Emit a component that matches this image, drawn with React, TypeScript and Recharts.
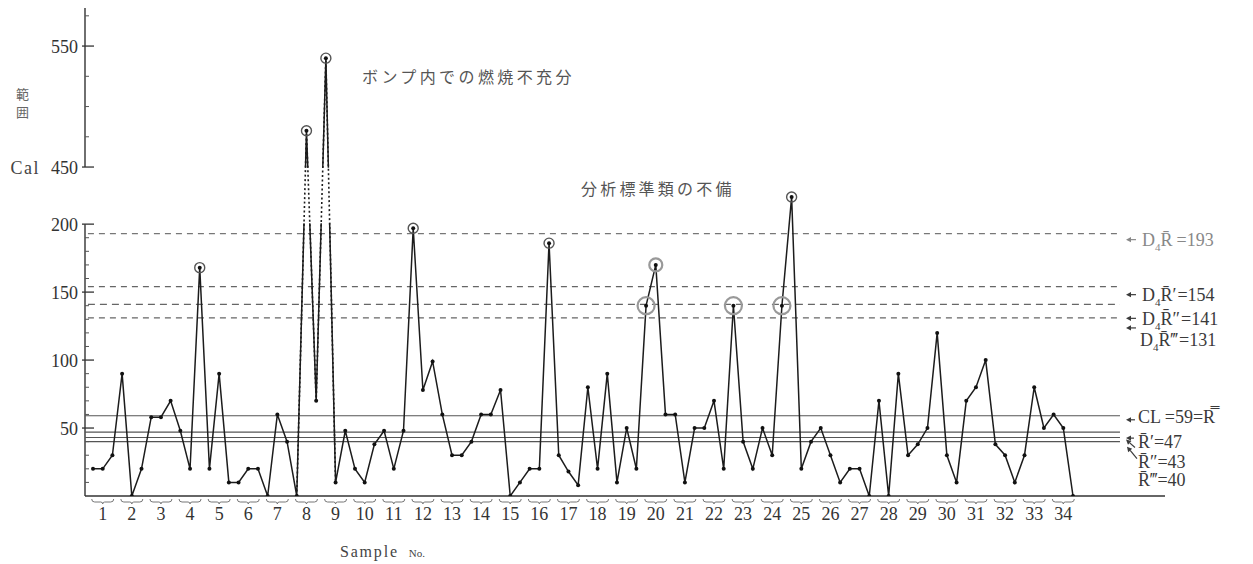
import React from 'react';
import { LineChart, Line, XAxis, YAxis, ReferenceLine, ReferenceArea, Label } from 'recharts';

// Sample numbers on the bottom axis (three determinations per sample)
const sampleNos = [
  1, 2, 3, 4, 5, 6, 7, 8, 9, 10, 11, 12, 13, 14, 15, 16, 17,
  18, 19, 20, 21, 22, 23, 24, 25, 26, 27, 28, 29, 30, 31, 32, 33, 34,
];

// Range R (Cal) of each determination, in sample order
const rangeCal = [
  20, 20, 30, // 1
  90, 0, 20, // 2
  58, 58, 70, // 3
  48, 20, 168, // 4
  20, 90, 10, // 5
  10, 20, 20, // 6
  0, 60, 40, // 7
  0, 480, 70, // 8
  540, 10, 48, // 9
  20, 10, 38, // 10
  48, 20, 48, // 11
  197, 78, 99, // 12
  60, 30, 30, // 13
  40, 60, 60, // 14
  78, 0, 10, // 15
  20, 20, 186, // 16
  30, 18, 8, // 17
  80, 20, 90, // 18
  10, 50, 20, // 19
  140, 170, 60, // 20
  60, 10, 50, // 21
  50, 70, 20, // 22
  140, 40, 20, // 23
  50, 30, 140, // 24
  220, 20, 40, // 25
  50, 30, 10, // 26
  20, 20, 0, // 27
  70, 0, 90, // 28
  30, 38, 50, // 29
  120, 30, 10, // 30
  70, 80, 100, // 31
  38, 30, 10, // 32
  30, 80, 50, // 33
  60, 50, 0, // 34
];

// Out-of-control points (1-based position in rangeCal)
const ringedPoints = [12, 23, 25, 34, 48, 73];
const haloedPoints = [58, 59, 67, 72];

// Determinations whose links cross the axis break (drawn dotted there)
const breakSpan = [22, 26];

// Upper control limits D4·R̄ and centre lines R̄
const uclValues = [193, 154, 141, 131];
const clValues = [59, 47, 43, 40];
const primes = ['', '′', '″', '‴'];

// Y-axis tick labels
const lowerTicks = [50, 100, 150, 200];
const upperTicks = [450, 550];

// Broken value axis: 0–200 below the break, 450–580 above it on a tighter scale
const BREAK_LOW = 200;
const BREAK_HIGH = 450;
const BREAK_GAP = 42;
const UPPER_SCALE = 0.89;
const toAxis = (v: number) =>
  v >= BREAK_HIGH ? BREAK_LOW + BREAK_GAP + (v - BREAK_HIGH) * UPPER_SCALE : v;

const Y_TOP = 359;
const X_MIN = 0.1755;
const X_MAX = 111.48;
const LIMIT_END = 106.84;

const data = rangeCal.map((v, k) => {
  const idx = k + 1;
  return {
    idx,
    cal: v,
    y: toAxis(v),
    link: idx >= breakSpan[0] && idx <= breakSpan[1] ? toAxis(v) : null,
  };
});

const xTicks = sampleNos.map((n) => 3 * (n - 1) + 2);
const sampleAt = new Map<number, number>(sampleNos.map((n) => [3 * (n - 1) + 2, n]));

const yLabels = new Map<number, string>();
lowerTicks.forEach((v) => yLabels.set(toAxis(v), String(v)));
upperTicks.forEach((v) => yLabels.set(toAxis(v), String(v)));
const yTicks: number[] = [];
for (let v = 10; v <= 200; v += 10) yTicks.push(toAxis(v));
[450, 475, 500, 525, 550, 575].forEach((v) => yTicks.push(toAxis(v)));

const SERIF = '"Liberation Serif", "DejaVu Serif", serif';
const CJK = '"Noto Sans CJK JP", sans-serif';

const YTick = (props: any) => {
  const { x, y, payload } = props;
  const lbl = yLabels.get(payload.value);
  if (lbl === undefined) {
    return <line x1={x} x2={x + 4} y1={y} y2={y} stroke="#555" strokeWidth={1} />;
  }
  return (
    <g>
      <line x1={x - 3} x2={x + 9} y1={y} y2={y} stroke="#333" strokeWidth={1.3} />
      <text x={x - 7} y={y} dy="0.36em" textAnchor="end" fontSize={18} fill="#333" fontFamily={SERIF}>
        {lbl}
      </text>
      {payload.value === toAxis(BREAK_HIGH) && (
        <text x={x - 45} y={y} dy="0.36em" textAnchor="end" fontSize={18} fill="#444" fontFamily={SERIF} letterSpacing={1.5}>
          Cal
        </text>
      )}
    </g>
  );
};

const XTick = (props: any) => {
  const { x, y, payload } = props;
  const n = sampleAt.get(payload.value);
  const b = y + 3;
  return (
    <g>
      <path
        d={`M${x - 11},${b} Q${x - 11},${b + 3} ${x - 8},${b + 3} L${x - 2},${b + 3} Q${x},${b + 3} ${x},${b + 5} Q${x},${b + 3} ${x + 2},${b + 3} L${x + 8},${b + 3} Q${x + 11},${b + 3} ${x + 11},${b}`}
        fill="none"
        stroke="#777"
        strokeWidth={1}
      />
      <text x={x} y={y + 24} textAnchor="middle" fontSize={18} fill="#333" fontFamily={SERIF}>
        {n}
      </text>
    </g>
  );
};

const ringSet = new Set(ringedPoints);
const haloSet = new Set(haloedPoints);

const renderDot = (p: any) => {
  const { cx, cy, index } = p;
  if (cx == null || cy == null) return <g key={`d-${index}`} />;
  const i = index + 1;
  return (
    <g key={`d-${index}`}>
      {haloSet.has(i) && (
        <circle cx={cx} cy={cy} r={i === 59 ? 6.5 : 8.5} fill="none" stroke="#999" strokeWidth={2.2} />
      )}
      {ringSet.has(i) && (
        <circle cx={cx} cy={cy} r={5} fill="none" stroke="#555" strokeWidth={1.4} />
      )}
      <circle cx={cx} cy={cy} r={2} fill="#111" />
    </g>
  );
};

const Arrow = ({ x, y, tx, ty, color }: { x: number; y: number; tx: number; ty: number; color: string }) => {
  // arrow from the tail (tx,ty) to the head (x,y)
  const ang = Math.atan2(y - ty, x - tx);
  const hl = 5;
  const hw = 2.6;
  const bx = x - hl * Math.cos(ang);
  const by = y - hl * Math.sin(ang);
  const px = -Math.sin(ang) * hw;
  const py = Math.cos(ang) * hw;
  return (
    <g>
      <line x1={tx} y1={ty} x2={bx} y2={by} stroke={color} strokeWidth={1.2} />
      <polygon points={`${x},${y} ${bx + px},${by + py} ${bx - px},${by - py}`} fill={color} />
    </g>
  );
};

const uclLabel = (k: number) => (props: any) => {
  const vb = props.viewBox || {};
  const x = (vb.x ?? 0) + (vb.width ?? 0);
  const ly = vb.y ?? 0;
  const textDy = [6, 8, 14, 22][k];
  const arrowDy = [6, 8, 14, 10][k];
  const color = k === 0 ? '#888' : '#3a3a3a';
  const ty = ly + textDy;
  return (
    <g>
      <Arrow x={x + 6} y={ly + arrowDy} tx={x + 16} ty={ly + arrowDy} color={color} />
      <text x={x + (k === 3 ? 20 : 22)} y={ty} dy="0.35em" fontSize={18} fill={color} fontFamily={SERIF}>
        D<tspan fontSize={11} dy={5}>4</tspan>
        <tspan dy={-5}>{'R\u0304' + primes[k]}</tspan>
        <tspan dx={k === 0 ? 4 : 1}>={uclValues[k]}</tspan>
      </text>
    </g>
  );
};

const clLabel = (k: number) => (props: any) => {
  const vb = props.viewBox || {};
  const x = (vb.x ?? 0) + (vb.width ?? 0);
  const ly = vb.y ?? 0;
  const textDy = [1, 10, 24.5, 38][k];
  const color = '#3a3a3a';
  const ty = ly + textDy;
  let arrow;
  if (k === 0) arrow = <Arrow x={x + 6} y={ly + 4} tx={x + 15} ty={ly + 4} color={color} />;
  else if (k === 1) arrow = <Arrow x={x + 6} y={ly + 6} tx={x + 14} ty={ly + 6} color={color} />;
  else if (k === 2) arrow = <Arrow x={x + 6} y={ly + 2} tx={x + 15} ty={ly + 10} color={color} />;
  else arrow = <Arrow x={x + 7} y={ly + 5} tx={x + 17} ty={ly + 17} color={color} />;
  return (
    <g>
      {arrow}
      <text x={x + 18} y={ty} dy="0.35em" fontSize={18} fill={color} fontFamily={SERIF}>
        {k === 0 ? 'CL =59=R\u033F' : `R\u0304${primes[k]}=${clValues[k]}`}
      </text>
    </g>
  );
};

export default function App() {
  return (
    <div style={{ position: 'relative', width: 1253, height: 564, background: '#fff' }}>
      <style>{'body{margin:0;background:#fff}'}</style>
      <LineChart
        width={1253}
        height={564}
        data={data}
        margin={{ top: 8, right: 88, bottom: 0, left: 0 }}
        style={{ fontFamily: SERIF }}
      >
        <XAxis
          type="number"
          dataKey="idx"
          domain={[X_MIN, X_MAX]}
          allowDataOverflow
          ticks={xTicks}
          interval={0}
          height={68}
          tickSize={0}
          tickMargin={0}
          tickLine={false}
          tick={<XTick />}
          axisLine={{ stroke: '#333', strokeWidth: 1.3 }}
        />
        <YAxis
          type="number"
          domain={[0, Y_TOP]}
          allowDataOverflow
          ticks={yTicks}
          interval={0}
          width={85}
          tickSize={0}
          tickMargin={0}
          tickLine={false}
          axisLine={false}
          tick={<YTick />}
        />

        {/* broken value axis: lower and upper segments */}
        <ReferenceLine
          segment={[{ x: X_MIN, y: 0 }, { x: X_MIN, y: BREAK_LOW }]}
          stroke="#333"
          strokeWidth={1.4}
        />
        <ReferenceLine
          segment={[{ x: X_MIN, y: toAxis(BREAK_HIGH) }, { x: X_MIN, y: Y_TOP }]}
          stroke="#333"
          strokeWidth={1.4}
        />

        {uclValues.map((v, k) => (
          <ReferenceLine
            key={`ucl-${v}`}
            segment={[{ x: X_MIN + 0.3, y: v }, { x: LIMIT_END, y: v }]}
            stroke={k === 0 ? '#777' : '#666'}
            strokeWidth={1.2}
            strokeDasharray={k === 2 ? '7 5' : '6 5'}
          >
            <Label content={uclLabel(k)} />
          </ReferenceLine>
        ))}
        {clValues.map((v, k) => (
          <ReferenceLine
            key={`cl-${v}`}
            segment={[{ x: X_MIN, y: v }, { x: LIMIT_END, y: v }]}
            stroke="#555"
            strokeWidth={1.1}
          >
            <Label content={clLabel(k)} />
          </ReferenceLine>
        ))}

        <Line
          dataKey="y"
          stroke="#1c1c1c"
          strokeWidth={1.5}
          dot={renderDot}
          activeDot={false}
          isAnimationActive={false}
          zIndex={400}
        />
        {/* blank out the axis-break band, then link it with dotted segments */}
        <ReferenceArea
          x1={breakSpan[0] + 0.4}
          x2={breakSpan[1] - 0.4}
          y1={BREAK_LOW + 0.6}
          y2={toAxis(BREAK_HIGH) - 0.6}
          fill="#fff"
          fillOpacity={1}
          stroke="none"
          zIndex={450}
        />
        <Line
          dataKey="link"
          stroke="#1c1c1c"
          strokeWidth={1.6}
          strokeDasharray="2 2.5"
          dot={false}
          activeDot={false}
          connectNulls={false}
          isAnimationActive={false}
          zIndex={460}
        />
      </LineChart>

      <div style={{ position: 'absolute', left: 16, top: 86, fontFamily: CJK, fontSize: 13, lineHeight: '15px', color: '#666' }}>
        範
      </div>
      <div style={{ position: 'absolute', left: 16, top: 104, fontFamily: CJK, fontSize: 13, lineHeight: '15px', color: '#666' }}>
        囲
      </div>
      <div style={{ position: 'absolute', left: 362, top: 65, fontFamily: CJK, fontSize: 16, letterSpacing: 3.4, color: '#555', whiteSpace: 'nowrap', lineHeight: '22px' }}>
        ボンプ内での燃焼不充分
      </div>
      <div style={{ position: 'absolute', left: 581, top: 177, fontFamily: CJK, fontSize: 16, letterSpacing: 3.2, color: '#555', whiteSpace: 'nowrap', lineHeight: '22px' }}>
        分析標準類の不備
      </div>
      <div style={{ position: 'absolute', left: 340, top: 541, fontFamily: SERIF, color: '#444', whiteSpace: 'nowrap', lineHeight: '22px' }}>
        <span style={{ fontSize: 16, letterSpacing: 1.8 }}>Sample</span>
        <span style={{ fontSize: 11, marginLeft: 10 }}>No.</span>
      </div>
    </div>
  );
}
